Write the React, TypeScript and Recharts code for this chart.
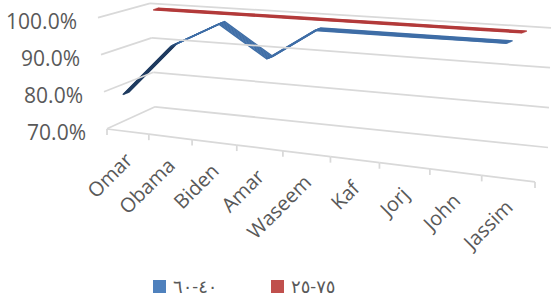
import { LineChart, Line, XAxis, YAxis } from "recharts";

const NAMES = ["Omar", "Obama", "Biden", "Amar", "Waseem", "Kaf", "Jorj", "John", "Jassim"];
const SERIES_40_60 = [0.8, 0.934, 1.0, 0.918, 1.0, 1.0, 1.0, 1.0, 1.0];
const SERIES_75_25 = [1.0, 1.0, 1.0, 1.0, 1.0, 1.0, 1.0, 1.0, 1.0];
const Y_TICKS = [0.7, 0.8, 0.9, 1.0];
const LEGEND_NAMES = ["٤٠-٦٠", "٧٥-٢٥"];

const data = NAMES.map((name, i) => ({ name, s1: SERIES_40_60[i], s2: SERIES_75_25[i] }));

const W = 552;
const H = 297;
const PLOT_L = 150;
const PLOT_R = 550;
const PLOT_T = 10;
const PLOT_B = 118;
const FONT = "'Open Sans', 'DejaVu Sans', sans-serif";
const GRID = "#d9d9d9";
const TEXT = "#595959";

// fake 3d: each series plane gets its own projection, ribbon = copies along depth
const SERIES = [
  {
    key: "s1",
    name: LEGEND_NAMES[0],
    legend: "#4f81bd",
    stroke: "url(#blueFace)",
    m: [0.9598, 0.0645, 0, 1.072, -18.17, -4.045],
    depth: [6, -2.5],
    steps: [-0.5, -0.333, -0.167, 0, 0.167, 0.333, 0.5],
  },
  {
    key: "s2",
    name: LEGEND_NAMES[1],
    legend: "#c0504d",
    stroke: "#b33b3b",
    m: [0.9225, 0.0575, 0, 1.04, 17.125, -10.025],
    depth: [5, -1.8],
    steps: [-0.5, -0.25, 0, 0.25, 0.5],
  },
];

const css = SERIES.map((s) =>
  s.steps
    .map((t, k) => {
      const [a, b, c, d, e, f] = s.m;
      return `.rb-${s.key}-${k}{transform:matrix(${a},${b},${c},${d},${e + t * s.depth[0]},${f + t * s.depth[1]});transform-origin:0 0;transform-box:view-box;}`;
    })
    .join("\n")
).join("\n");

// side walls + back wall lines + labels
const WallTick = (props: any) => {
  const v = props.payload.value;
  const dv = 100 - v * 100;
  const bx = 150 + 0.17 * dv;
  const by = 3.3 + 3.45 * dv;
  const fx = 98 + 0.3 * dv;
  const fy = 17.7 + 3.7 * dv;
  return (
    <g>
      <line x1={bx} y1={by} x2={551 - 0.1 * dv} y2={27.8 + 3.99 * dv} stroke={GRID} strokeWidth={1.75} />
      <line x1={bx} y1={by} x2={fx} y2={fy} stroke={GRID} strokeWidth={1.75} />
      <text x={fx - 21} y={fy + 3} textAnchor="end" dominantBaseline="central" fontSize={21} fill={TEXT} fontFamily={FONT}>
        {(v * 100).toFixed(1) + "%"}
      </text>
    </g>
  );
};

const front = (u: number) => 107 + 370 * u + 58 * u * u;
const edgeY = (x: number) => 129 + 0.1238 * (x - 107);

// floor front edge, tick marks and slanted names
const FloorTick = (props: any) => {
  const n = NAMES.length;
  const idx = Math.round(((props.x - PLOT_L) / (PLOT_R - PLOT_L)) * (n - 1));
  const f0 = front(idx / n);
  const f1 = front((idx + 1) / n);
  const c = front((idx + 0.5) / n);
  const last = idx === n - 1;
  const tx = c + 6;
  const ty = edgeY(c) + 30;
  return (
    <g>
      <line x1={f0} y1={edgeY(f0)} x2={f1} y2={edgeY(f1)} stroke={GRID} strokeWidth={1.75} />
      <line x1={f0} y1={edgeY(f0)} x2={f0} y2={edgeY(f0) + 6} stroke={GRID} strokeWidth={1.75} />
      {last && <line x1={f1} y1={edgeY(f1)} x2={f1} y2={edgeY(f1) + 6} stroke={GRID} strokeWidth={1.75} />}
      <text x={tx} y={ty} transform={`rotate(-45 ${tx} ${ty})`} textAnchor="end" fontSize={20} fill={TEXT} fontFamily={FONT}>
        {props.payload.value}
      </text>
    </g>
  );
};

export default function App() {
  return (
    <div style={{ position: "absolute", left: 0, top: 0, width: W, height: H, background: "#fff" }}>
      <style>{css}</style>
      <LineChart
        width={W}
        height={H}
        data={data}
        margin={{ top: PLOT_T, right: W - PLOT_R, bottom: H - PLOT_B - 30, left: 0 }}
      >
        <defs>
          <linearGradient id="blueFace" x1="0" y1="0" x2="1" y2="0">
            <stop offset="0" stopColor="#1e3a5f" />
            <stop offset="0.115" stopColor="#1e3a5f" />
            <stop offset="0.135" stopColor="#3e6da6" />
            <stop offset="1" stopColor="#3e6da6" />
          </linearGradient>
        </defs>
        <XAxis dataKey="name" axisLine={false} tickLine={false} interval={0} height={30} tick={(p: any) => <FloorTick {...p} />} />
        <YAxis
          width={PLOT_L}
          domain={[0.7, 1.0]}
          ticks={Y_TICKS}
          axisLine={false}
          tickLine={false}
          tick={(p: any) => <WallTick {...p} />}
        />
        {SERIES.slice()
          .reverse()
          .map((s) =>
            s.steps.map((t, k) => (
              <Line
                key={`${s.key}-${k}`}
                className={`rb-${s.key}-${k}`}
                dataKey={s.key}
                name={s.name}
                stroke={s.stroke}
                strokeWidth={1.3}
                dot={false}
                activeDot={false}
                legendType="none"
                isAnimationActive={false}
              />
            ))
          )}
      </LineChart>
      {SERIES.map((s, i) => (
        <div
          key={s.key}
          style={{
            position: "absolute",
            left: i === 0 ? 153 : 271,
            top: 277,
            display: "flex",
            alignItems: "center",
            fontFamily: FONT,
            fontSize: 18,
            color: TEXT,
            lineHeight: "18px",
          }}
        >
          <span style={{ width: 13, height: 13, background: s.legend, display: "inline-block", marginRight: 7 }} />
          <span>{s.name}</span>
        </div>
      ))}
    </div>
  );
}
